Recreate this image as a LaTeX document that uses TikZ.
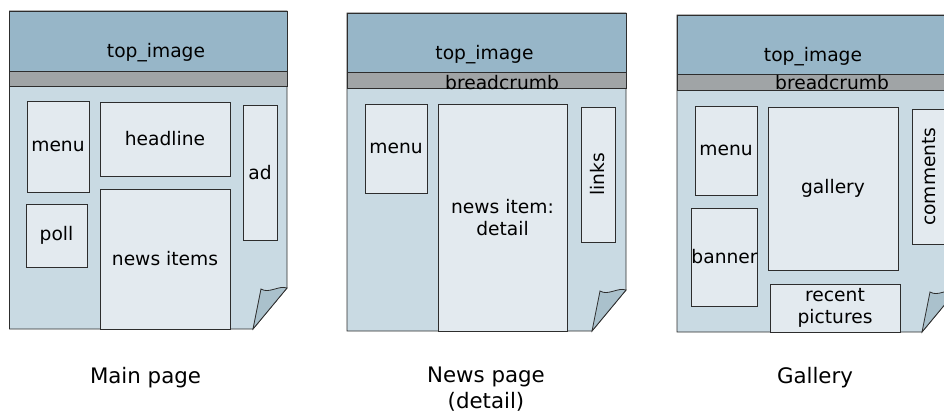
\documentclass[tikz,border=0pt]{standalone}
\usepackage{fontspec}
\setmainfont{DejaVu Sans}
\definecolor{topfill}{RGB}{151,182,200}
\definecolor{crumbfill}{RGB}{160,164,166}
\definecolor{sheetfill}{RGB}{201,218,227}
\definecolor{boxfill}{RGB}{227,234,239}
\definecolor{flapfill}{RGB}{170,193,204}
\definecolor{edge}{RGB}{45,45,45}
\tikzset{
	outline/.style={draw=edge, line width=0.6pt},
	box/.style={outline, fill=boxfill, inner sep=0pt, align=center, font=\fontsize{14}{17}\selectfont},
	bandtext/.style={anchor=base, inner sep=0pt, font=\fontsize{14}{17}\selectfont},
	caption/.style={anchor=base, align=center, inner sep=0pt, font=\fontsize{16}{19.5}\selectfont}
}
% #1 left, #2 top, #3 right, #4 bottom, #5 image band, #6 crumb band
\newcommand{\sheet}[6]{%
	\draw[outline, fill=sheetfill] (#1,#2) -- (#3,#2) -- (#3,#4-41) -- (#3-34,#4) -- (#1,#4) -- cycle;
	\draw[outline, fill=topfill] (#1,#2) rectangle (#3,#5);
	\draw[outline, fill=crumbfill] (#1,#5) rectangle (#3,#6);
	\draw[outline, fill=flapfill] (#3-34,#4) -- (#3-26,#4-40) .. controls (#3-18,#4-35) and (#3-8,#4-44) .. (#3,#4-41) -- cycle;
}
\begin{document}
\begin{tikzpicture}[x=0.75pt, y=-0.75pt]
		\useasboundingbox (0,0) rectangle (944,412);
		\clip (0,0) rectangle (944,412);
		% main page
		\sheet{9.5}{11}{287}{329}{71}{86}
		\node[bandtext] (topA) at (156,57) {top\_image};
		\node[box, minimum width=46.5pt, minimum height=68.25pt] (menuA) at (58,146.5) {menu};
		\node[box, minimum width=97.5pt, minimum height=55.5pt] (headline) at (165,139) {headline};
		\node[box, minimum width=25.5pt, minimum height=101.25pt] (ad) at (260,172.5) {ad};
		\node[box, minimum width=45.75pt, minimum height=47.25pt] (poll) at (56.5,235.5) {poll};
		\node[box, minimum width=97.5pt, minimum height=105pt] (newsitems) at (165,259) {news items};
		\node[caption] (capA) at (145.5,383) {Main page};
		% news page
		\sheet{347}{13}{626}{331}{72}{88}
		\node[bandtext] (topB) at (484.5,59) {top\_image};
		\node[bandtext] (crumbB) at (502,89) {breadcrumb};
		\node[box, minimum width=46.5pt, minimum height=66.75pt] (menuB) at (396,148.5) {menu};
		\node[box, minimum width=96.75pt, minimum height=170.25pt] (detail) at (502.5,217.5) {news item:\\detail};
		\node[box, rotate=90, minimum width=101.25pt, minimum height=25.5pt] (links) at (598,174.5) {links};
		\node[caption] (capB) at (486,408) {News page\\(detail)};
		% gallery
		\sheet{677}{15}{956}{332}{74}{90}
		\node[bandtext] (topC) at (813,61) {top\_image};
		\node[bandtext] (crumbC) at (832,89) {breadcrumb};
		\node[box, minimum width=46.5pt, minimum height=66.75pt] (menuC) at (726,150.5) {menu};
		\node[box, minimum width=97.5pt, minimum height=122.25pt] (gallery) at (833,188.5) {gallery};
		\node[box, rotate=90, minimum width=101.25pt, minimum height=25.5pt] (comments) at (929,176.5) {comments};
		\node[box, minimum width=45.75pt, minimum height=73.5pt] (banner) at (724.5,257) {banner};
		\node[box, minimum width=97.5pt, minimum height=36pt] (recent) at (835,308) {recent\\pictures};
		\node[caption] (capC) at (815,383) {Gallery};
\end{tikzpicture}
\end{document}
